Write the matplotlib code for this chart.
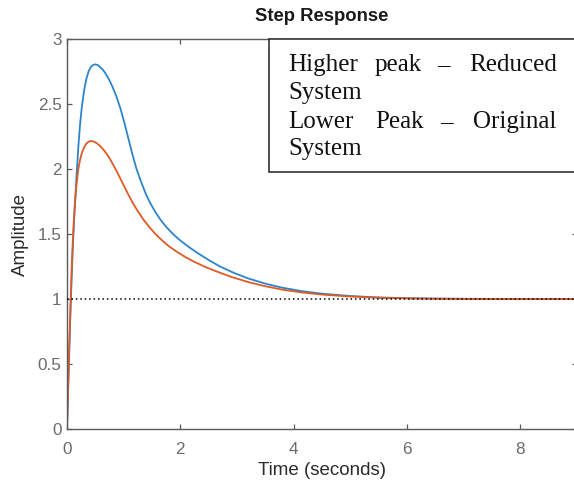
import matplotlib
matplotlib.use("Agg")
import matplotlib.pyplot as plt
from matplotlib.patches import Rectangle

# ---- data ----
t_reduced = [0.00, 0.02, 0.04, 0.06, 0.08, 0.10, 0.12, 0.14, 0.17, 0.20, 0.23, 0.26,
             0.30, 0.34, 0.38, 0.42, 0.46, 0.50, 0.54, 0.58, 0.63, 0.68, 0.74, 0.80,
             0.87, 0.94, 1.01, 1.08, 1.15, 1.22, 1.30, 1.38, 1.46, 1.55, 1.65, 1.75,
             1.87, 2.00, 2.15, 2.30, 2.50, 2.70, 2.95, 3.20, 3.50, 3.80, 4.15, 4.50,
             5.00, 5.50, 6.00, 6.50, 7.00, 8.00, 9.00]
y_reduced = [0.00, 0.30, 0.60, 0.88, 1.14, 1.37, 1.56, 1.72, 1.96, 2.17, 2.34, 2.47,
             2.60, 2.69, 2.75, 2.785, 2.80, 2.805, 2.80, 2.785, 2.765, 2.735, 2.69, 2.635,
             2.56, 2.47, 2.36, 2.24, 2.12, 2.01, 1.91, 1.82, 1.745, 1.675, 1.61, 1.555,
             1.50, 1.45, 1.40, 1.355, 1.30, 1.25, 1.20, 1.158, 1.118, 1.087, 1.06, 1.041,
             1.023, 1.012, 1.006, 1.003, 1.0015, 1.00, 1.00]

t_original = [0.00, 0.02, 0.04, 0.06, 0.08, 0.10, 0.12, 0.14, 0.17, 0.20, 0.23, 0.26,
              0.30, 0.34, 0.38, 0.42, 0.46, 0.50, 0.55, 0.60, 0.66, 0.72, 0.78, 0.85,
              0.92, 1.00, 1.08, 1.16, 1.25, 1.35, 1.45, 1.56, 1.68, 1.80, 1.95, 2.10,
              2.25, 2.45, 2.65, 2.90, 3.20, 3.50, 3.80, 4.15, 4.50, 5.00, 5.50, 6.00,
              6.50, 7.00, 8.00, 9.00]
y_original = [0.00, 0.32, 0.63, 0.93, 1.20, 1.42, 1.60, 1.74, 1.89, 2.00, 2.07, 2.12,
              2.165, 2.195, 2.21, 2.215, 2.213, 2.205, 2.19, 2.17, 2.14, 2.105, 2.06, 2.005,
              1.945, 1.875, 1.805, 1.74, 1.675, 1.61, 1.555, 1.50, 1.45, 1.405, 1.36, 1.32,
              1.285, 1.245, 1.21, 1.17, 1.13, 1.098, 1.072, 1.05, 1.034, 1.019, 1.01, 1.005,
              1.0025, 1.001, 1.00, 1.00]

steady_state = 1.0
xticks = [0, 2, 4, 6, 8]
xticklabels = ["0", "2", "4", "6", "8"]
yticks = [0, 0.5, 1, 1.5, 2, 2.5, 3]
yticklabels = ["0", "0.5", "1", "1.5", "2", "2.5", "3"]
title = "Step Response"
xlabel = "Time (seconds)"
ylabel = "Amplitude"
legend_lines = [["Higher", "peak", "\u2013", "Reduced"], ["System"],
                ["Lower", "Peak", "\u2013", "Original"], ["System"]]

# ---- figure ----
W, H = 574, 482
fig = plt.figure(figsize=(W / 100, H / 100), dpi=100)
fig.patch.set_facecolor("white")

def fx(px):
    return px / W

def fy(py):
    return 1 - py / H

L, R, T, B = 67, 577, 39, 429
ax = fig.add_axes([fx(L), fy(B), (R - L) / W, (B - T) / H])

blue = "#2D84CC"
orange = "#DF5A25"
ax.plot(t_reduced, y_reduced, color=blue, lw=1.3, zorder=2,
        solid_joinstyle="round")
ax.plot(t_original, y_original, color=orange, lw=1.3, zorder=2.5,
        solid_joinstyle="round")
ax.axhline(steady_state, color="black", lw=1.1, ls=(0, (1, 1.9)), zorder=3)

ax.set_xlim(0, 9)
ax.set_ylim(0, 3)
ax.set_xticks(xticks)
ax.set_xticklabels(xticklabels)
ax.set_yticks(yticks)
ax.set_yticklabels(yticklabels)

spine_col = "#5a5a5a"
for s in ax.spines.values():
    s.set_color(spine_col)
    s.set_linewidth(1.0)

ax.tick_params(direction="in", length=3.6, width=0.9, color=spine_col,
               top=True, right=True, labelcolor="#6b6b6b")
ax.tick_params(axis="x", pad=9.5)
ax.tick_params(axis="y", pad=4)
for lab in ax.get_xticklabels() + ax.get_yticklabels():
    lab.set_fontfamily("Liberation Sans")
    lab.set_fontsize(12.3)

ax.set_title(title, fontfamily="Liberation Sans", fontsize=13.3,
             fontweight="bold", color="#1a1a1a", pad=13)
ax.set_xlabel(xlabel, fontfamily="Liberation Sans", fontsize=13.5, color="#2b2b2b",
              labelpad=3.5)
ax.set_ylabel(ylabel, fontfamily="Liberation Sans", fontsize=13.5, color="#2b2b2b",
              labelpad=6)

# ---- annotation box (legend-like text box) ----
box = Rectangle((fx(269), fy(172)), fx(620) - fx(269), fy(39) - fy(172),
                transform=fig.transFigure, facecolor="white", edgecolor="#222222",
                lw=1.1, zorder=5)
fig.add_artist(box)

serif = dict(family="Liberation Serif", size=18, color="#111111", zorder=6)
baselines = [71, 99.5, 128, 155.5]
word_x = {
    0: [(288, "left"), (375, "left"), (437, "left"), (557, "right")],
    1: [(288, "left")],
    2: [(288, "left"), (375, "left"), (440, "left"), (556, "right")],
    3: [(288, "left")],
}
for i, words in enumerate(legend_lines):
    for w, (xp, ha) in zip(words, word_x[i]):
        fig.text(fx(xp), fy(baselines[i]), w, ha=ha, va="baseline", **serif)

fig.savefig("out.png", dpi=100, facecolor="white")
